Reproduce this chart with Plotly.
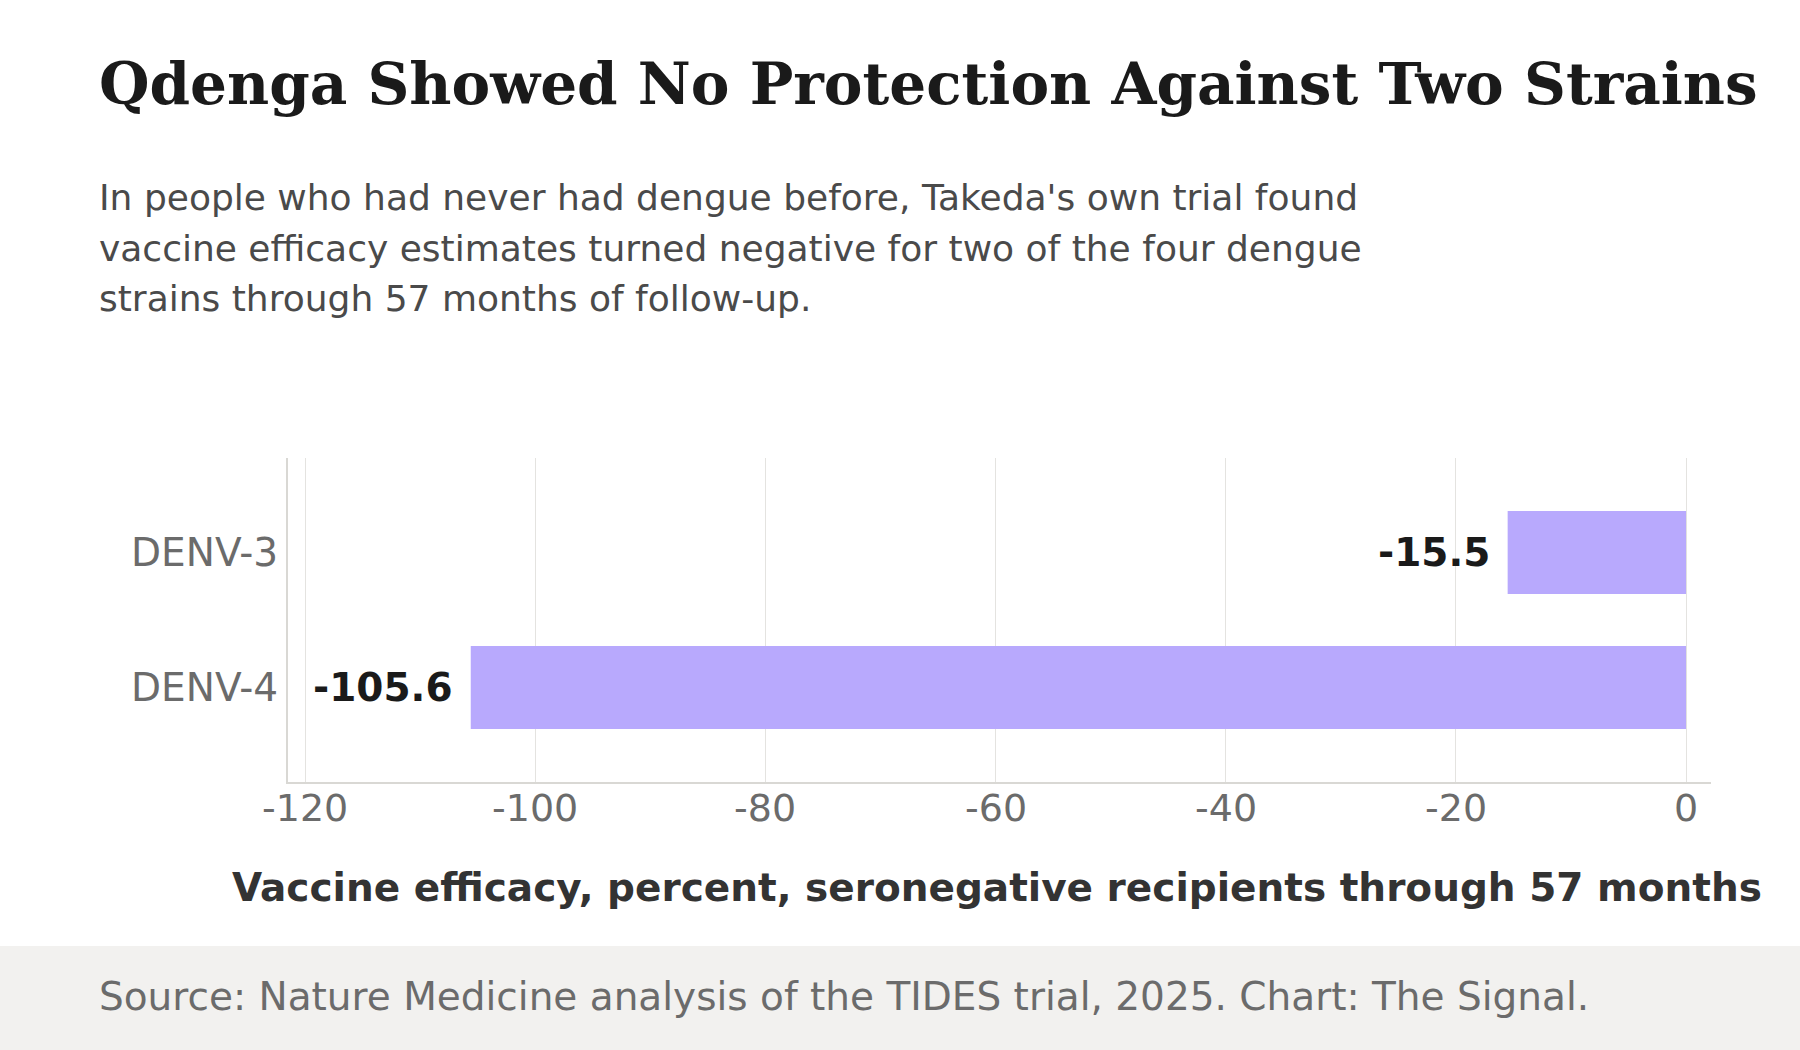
import plotly.graph_objects as go

strains = ["DENV-3", "DENV-4"]
efficacy = [-15.5, -105.6]
tick_values = [-120, -100, -80, -60, -40, -20, 0]
tick_labels = ["-120", "-100", "-80", "-60", "-40", "-20", "0"]

title_text = "Qdenga Showed No Protection Against Two Strains"
subtitle_lines = [
    "In people who had never had dengue before, Takeda's own trial found",
    "vaccine efficacy estimates turned negative for two of the four dengue",
    "strains through 57 months of follow-up.",
]
x_title = "Vaccine efficacy, percent, seronegative recipients through 57 months"
source_text = "Source: Nature Medicine analysis of the TIDES trial, 2025. Chart: The Signal."

W, H = 1800, 1050
L, R, T, B = 288, 89, 458, 268
PW, PH = W - L - R, H - T - B

def px(xp):
    return (xp - L) / PW

def py(yp):
    return (H - B - yp) / PH

fig = go.Figure()
fig.add_trace(go.Bar(
    y=strains, x=efficacy, orientation="h",
    marker=dict(color="#b8a9fd", line=dict(width=0)),
    hoverinfo="skip",
))

annotations = []
for s, v in zip(strains, efficacy):
    annotations.append(dict(
        x=v, y=s, xref="x", yref="y", text=f"<b>{v:.1f}</b>",
        showarrow=False, xanchor="right", yanchor="middle", xshift=-16,
        font=dict(family="DejaVu Sans", size=39, color="#1a1a1a"),
    ))

for tv, tl in zip(tick_values, tick_labels):
    annotations.append(dict(
        x=tv, y=py(808), xref="x", yref="paper", text=tl,
        showarrow=False, xanchor="center", yanchor="middle",
        font=dict(family="DejaVu Sans", size=38, color="#6b6b6b"),
    ))

annotations.append(dict(
    x=px(96.7), y=py(84), xref="paper", yref="paper", text=f"<b>{title_text}</b>",
    showarrow=False, xanchor="left", yanchor="middle",
    font=dict(family="DejaVu Serif", size=58, color="#1a1a1a"),
))
for i, line in enumerate(subtitle_lines):
    annotations.append(dict(
        x=px(96.7), y=py(197.5 + 50.5 * i), xref="paper", yref="paper", text=line,
        showarrow=False, xanchor="left", yanchor="middle", align="left",
        font=dict(family="DejaVu Sans", size=36, color="#4a4a4a"),
    ))
annotations.append(dict(
    x=px(1764), y=py(887), xref="paper", yref="paper", text=f"<b>{x_title}</b>",
    showarrow=False, xanchor="right", yanchor="middle",
    font=dict(family="DejaVu Sans", size=39, color="#333333"),
))
annotations.append(dict(
    x=px(96.7), y=py(996), xref="paper", yref="paper", text=source_text,
    showarrow=False, xanchor="left", yanchor="middle",
    font=dict(family="DejaVu Sans", size=39, color="#6b6b6b"),
))

fig.update_layout(
    width=W, height=H,
    margin=dict(l=L, r=R, t=T, b=B, autoexpand=False),
    paper_bgcolor="white", plot_bgcolor="white",
    showlegend=False,
    bargap=0.385,
    annotations=annotations,
    shapes=[dict(
        type="rect", xref="paper", yref="paper",
        x0=px(0), x1=px(W), y0=py(946), y1=py(H + 5),
        fillcolor="#f2f1ef", line=dict(width=0), layer="below",
    )],
    xaxis=dict(
        range=[-121.48, 2.17], tickvals=tick_values, showticklabels=False,
        showgrid=True, gridcolor="#e4e3e0", gridwidth=1.4,
        zeroline=False, showline=True, linecolor="#d9d8d4", linewidth=2,
        ticks="", fixedrange=True,
    ),
    yaxis=dict(
        range=[1.7, -0.7], type="category",
        showgrid=False, zeroline=False, showline=True, linecolor="#d9d8d4", linewidth=2,
        ticks="", ticklabelstandoff=0,
        tickfont=dict(family="DejaVu Sans", size=39, color="#6b6b6b"),
        fixedrange=True,
    ),
)

fig.write_html("out.html", config={"displayModeBar": False})
